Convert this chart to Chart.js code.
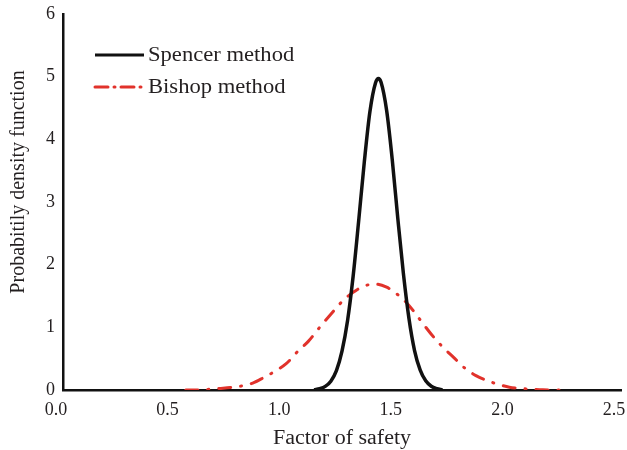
<!DOCTYPE html>
<html>
<head>
<meta charset="utf-8">
<script src="https://cdn.jsdelivr.net/npm/chart.js@4.4.1/dist/chart.umd.min.js"></script>
<style>
  html, body { margin: 0; padding: 0; background: #fff; }
  #wrap { width: 627px; height: 450px; }
</style>
</head>
<body>
<div id="wrap"><canvas id="pdfChart" width="627" height="450"></canvas></div>
<script>
// Spencer method PDF
const spencerX = [1.125, 1.150, 1.175, 1.200, 1.225, 1.250, 1.275, 1.300, 1.325, 1.350, 1.375,
  1.400, 1.413, 1.425, 1.450, 1.475, 1.500, 1.525, 1.550, 1.575, 1.600, 1.625, 1.650, 1.675, 1.700];
const spencerY = [0.004, 0.022, 0.058, 0.141, 0.31, 0.62, 1.11, 1.82, 2.71, 3.64, 4.44,
  4.90, 4.97, 4.91, 4.46, 3.68, 2.74, 1.86, 1.14, 0.63, 0.32, 0.146, 0.060, 0.023, 0.004];

// Bishop method PDF
const bishopX = [0.55, 0.60, 0.65, 0.70, 0.75, 0.80, 0.85, 0.90, 0.95, 1.00, 1.05, 1.10, 1.15, 1.20,
  1.25, 1.30, 1.35, 1.40, 1.45, 1.50, 1.55, 1.60, 1.65, 1.70, 1.75, 1.80, 1.85, 1.90, 1.95, 2.00,
  2.05, 2.10, 2.15, 2.20, 2.25];
const bishopY = [0.00, 0.00, 0.01, 0.025, 0.04, 0.065, 0.11, 0.20, 0.30, 0.42, 0.61, 0.78, 1.00, 1.21,
  1.41, 1.56, 1.66, 1.69, 1.64, 1.52, 1.35, 1.12, 0.89, 0.69, 0.52, 0.35, 0.23, 0.15, 0.09, 0.045,
  0.025, 0.012, 0.003, 0.00, 0.00];

const seriesNames = ['Spencer method', 'Bishop method'];
const xTicks = [0.0, 0.5, 1.0, 1.5, 2.0, 2.5];
const yTicks = [0, 1, 2, 3, 4, 5, 6];

const FONT = '"Liberation Serif", "Times New Roman", serif';
const INK = '#231f20';
const RED = '#e1322b';

const toPoints = (xs, ys) => xs.map((x, i) => ({ x, y: ys[i] }));

// text drawn a little wide, like the rest of the figure
function wideText(ctx, text, x, y, stretch) {
  ctx.save();
  ctx.translate(x, y);
  ctx.scale(stretch, 1);
  ctx.fillText(text, 0, 0);
  ctx.restore();
}

// legend in the upper left plus both axis titles
const annotate = {
  id: 'annotate',
  afterDraw(chart) {
    const { ctx, chartArea } = chart;
    ctx.save();
    const rows = [55, 87];
    chart.data.datasets.forEach((ds, i) => {
      ctx.beginPath();
      ctx.strokeStyle = ds.borderColor;
      ctx.lineWidth = i === 0 ? 3 : ds.borderWidth;
      ctx.lineCap = ds.borderCapStyle || 'butt';
      ctx.setLineDash(i === 1 ? [13, 6, 1, 6] : []);
      ctx.moveTo(95, rows[i]);
      ctx.lineTo(144, rows[i]);
      ctx.stroke();
      ctx.setLineDash([]);
      ctx.fillStyle = INK;
      ctx.font = '20px ' + FONT;
      ctx.textBaseline = 'middle';
      ctx.textAlign = 'left';
      wideText(ctx, ds.label, 148, rows[i] + 1, 1.13);
    });

    ctx.fillStyle = INK;
    ctx.font = '20px ' + FONT;
    ctx.textAlign = 'center';
    ctx.textBaseline = 'alphabetic';
    wideText(ctx, 'Factor of safety', (chartArea.left + chartArea.right) / 2, 444, 1.1);

    ctx.translate(19, 182);
    ctx.rotate(-Math.PI / 2);
    ctx.textBaseline = 'middle';
    ctx.fillText('Probabitily density function', 0, 0);
    ctx.restore();
  }
};

const ctx = document.getElementById('pdfChart').getContext('2d');
new Chart(ctx, {
  type: 'scatter',
  data: {
    datasets: [{
      label: seriesNames[0],
      data: toPoints(spencerX, spencerY),
      showLine: true,
      borderColor: '#111111',
      borderWidth: 3.5,
      pointRadius: 0,
      cubicInterpolationMode: 'monotone',
      borderCapStyle: 'butt'
    }, {
      label: seriesNames[1],
      data: toPoints(bishopX, bishopY),
      showLine: true,
      borderColor: RED,
      borderWidth: 3,
      borderDash: [12, 10, 1, 10],
      borderCapStyle: 'round',
      pointRadius: 0,
      cubicInterpolationMode: 'monotone'
    }]
  },
  options: {
    responsive: false,
    animation: false,
    layout: { padding: { top: 14, right: 6, left: 0, bottom: 0 } },
    plugins: {
      legend: { display: false },
      tooltip: { enabled: false }
    },
    scales: {
      x: {
        type: 'linear',
        min: 0,
        max: 2.5,
        grid: { display: false, drawTicks: false },
        border: { display: true, color: '#111111', width: 2.5 },
        afterBuildTicks: axis => { axis.ticks = xTicks.map(v => ({ value: v })); },
        afterFit: axis => {
          axis.height = 60;
          axis.paddingLeft = 0;
          axis.paddingRight = 0;
        },
        ticks: {
          padding: 9,
          labelOffset: -7,
          maxRotation: 0,
          color: INK,
          font: { family: FONT, size: 18 },
          callback: v => v.toFixed(1)
        }
      },
      y: {
        min: 0,
        max: 6,
        grid: { display: false, drawTicks: false },
        border: { display: true, color: '#111111', width: 2.5 },
        afterBuildTicks: axis => { axis.ticks = yTicks.map(v => ({ value: v })); },
        afterFit: axis => {
          axis.width = 63;
          axis.paddingTop = 0;
          axis.paddingBottom = 0;
        },
        ticks: {
          padding: 8,
          color: INK,
          font: { family: FONT, size: 18 }
        }
      }
    }
  },
  plugins: [annotate]
});
</script>
</body>
</html>
